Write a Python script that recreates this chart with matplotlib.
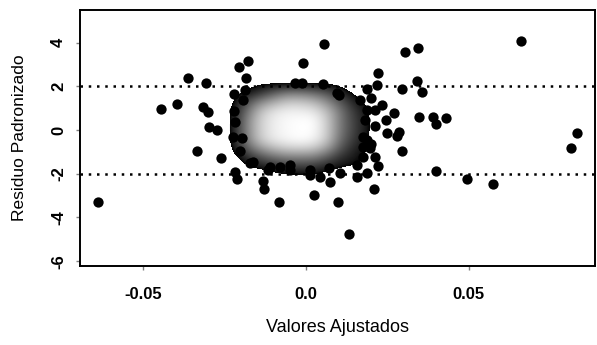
import numpy as np
import matplotlib.pyplot as plt
from matplotlib.colors import LinearSegmentedColormap

plt.rcParams['font.family'] = ['Liberation Sans', 'DejaVu Sans']
plt.rcParams['font.weight'] = 'bold'

# isolated residuals drawn as points (fitted value, standardised residual)
fitted = [-0.0641, -0.0446, -0.0396, -0.0364, -0.0309, -0.0316, -0.0303, -0.0300,
          -0.0274, -0.0334, -0.0261, -0.0207, -0.0178, -0.0184, -0.0188, -0.0221,
          -0.0223, -0.0218, -0.0226, -0.0203, -0.0218, -0.0211, -0.0172, -0.0131,
          -0.0129, -0.0082, -0.0111, -0.0049, 0.0012, 0.0043, 0.0074, 0.0025,
          0.0099, 0.0132, 0.0056, -0.0009, -0.0034, -0.0014, 0.0052, 0.0101,
          0.0156, 0.0187, 0.0209, 0.0220, 0.0176, 0.0200, 0.0212, 0.0187,
          0.0221, 0.0187, 0.0200, 0.0217, 0.0233, 0.0212, 0.0269, 0.0247,
          0.0250, 0.0286, 0.0279, 0.0296, 0.0212, 0.0304, 0.0344, 0.0294,
          0.0340, 0.0357, 0.0348, 0.0389, 0.0398, 0.0429, 0.0400, 0.0495,
          0.0575, 0.0662, 0.0833, 0.0815, -0.0080, 0.0105, 0.0187, 0.0197,
          0.0094, -0.0162, -0.0116, -0.0049, 0.0012, 0.0069, 0.0156, 0.0176,
          -0.0193, -0.0198, 0.0166, 0.0181, 0.0176]
resid = [-3.31, 0.95, 1.19, 2.38, 2.17, 1.05, 0.81, 0.15,
         0.00, -0.95, -1.26, 2.86, 3.16, 2.38, 1.83, 1.67,
         0.89, 0.37, -0.32, -0.94, -1.92, -2.23, -1.51, -2.33,
         -2.68, -3.30, -1.69, -1.83, -2.06, -2.15, -2.36, -2.95,
         -3.28, -4.76, 3.95, 3.05, 2.15, 2.17, 2.11, 1.60,
         -2.14, -1.98, -2.68, -1.65, -0.76, -0.66, 0.18, 0.92,
         2.62, 1.88, 1.46, 2.06, 1.14, 0.92, 0.76, 0.47,
         -0.14, -0.07, -0.27, -0.96, -1.22, 3.57, 3.74, 1.88,
         2.24, 1.73, 0.58, 0.58, 0.27, 0.54, -1.86, -2.25,
         -2.49, 4.07, -0.12, -0.81, -1.69, -1.97, -0.46, -0.82,
         1.68, -1.45, -1.83, -1.60, -1.83, -1.75, -1.60, -1.22,
         1.37, -0.38, 1.37, 0.46, -0.31]

# smoothed point density of the crowded centre (rows top to bottom)
dens_x = [-0.026, -0.022, -0.018, -0.014, -0.010, -0.006, -0.002,
          0.002, 0.006, 0.010, 0.014, 0.018, 0.022]
dens_y = [2.4, 2.0, 1.6, 1.2, 0.8, 0.4, 0.0, -0.4, -0.8, -1.2, -1.6, -2.0, -2.4]
density = [
    [0, 0, 0, 0, 0, 0, 0, 0, 0, 0, 0, 0, 0],
    [0, 0, 0.02, 0.04, 0.04, 0.04, 0.04, 0.04, 0.04, 0.03, 0, 0, 0],
    [0, 0.02, 0.06, 0.12, 0.25, 0.38, 0.38, 0.32, 0.22, 0.10, 0.04, 0, 0],
    [0, 0.03, 0.18, 0.42, 0.58, 0.72, 0.72, 0.65, 0.45, 0.22, 0.08, 0.03, 0],
    [0, 0.04, 0.28, 0.65, 0.85, 0.92, 0.92, 0.88, 0.65, 0.32, 0.12, 0.05, 0],
    [0, 0.04, 0.35, 0.72, 0.90, 0.97, 1.00, 1.00, 0.72, 0.32, 0.14, 0.05, 0],
    [0, 0.04, 0.35, 0.72, 0.90, 0.97, 1.00, 1.00, 0.72, 0.32, 0.14, 0.05, 0],
    [0, 0.04, 0.33, 0.70, 0.88, 0.95, 1.00, 0.95, 0.70, 0.28, 0.12, 0.05, 0],
    [0, 0.03, 0.22, 0.45, 0.62, 0.72, 0.75, 0.70, 0.50, 0.20, 0.08, 0.04, 0],
    [0, 0.02, 0.08, 0.18, 0.28, 0.35, 0.35, 0.35, 0.22, 0.10, 0.06, 0.03, 0],
    [0, 0, 0.04, 0.06, 0.09, 0.12, 0.14, 0.12, 0.08, 0.05, 0.04, 0.02, 0],
    [0, 0, 0, 0, 0.02, 0.03, 0.03, 0.03, 0.02, 0, 0, 0, 0],
    [0, 0, 0, 0, 0, 0, 0, 0, 0, 0, 0, 0, 0],
]

xticks = [-0.05, 0.0, 0.05]
xticklabels = ['-0.05', '0.0', '0.05']
yticks = [-6, -4, -2, 0, 2, 4]
limits = [-2, 2]

fig = plt.figure(figsize=(5.97, 3.45), dpi=100)
ax = fig.add_axes([80 / 597, 1 - 266 / 345, 515 / 597, 256 / 345])

# transparent below the cut, then black rising to white with a soft gamma
cut = 0.035
levels = np.linspace(cut + 0.001, 1, 60)
shade = ((levels - cut) / (1 - cut)) ** 0.6
stops = [(0.0, (1, 1, 1, 0)), (cut, (1, 1, 1, 0))]
stops += [(lv, (g, g, g, 1)) for lv, g in zip(levels, shade)]
cmap = LinearSegmentedColormap.from_list('smooth', stops, N=1024)
cmap.set_under((1, 1, 1, 0))
dx = (dens_x[1] - dens_x[0]) / 2
dy = (dens_y[0] - dens_y[1]) / 2
ax.imshow(np.array(density), cmap=cmap, vmin=0, vmax=1, origin='upper',
          extent=[dens_x[0] - dx, dens_x[-1] + dx, dens_y[-1] - dy, dens_y[0] + dy],
          interpolation='bicubic', interpolation_stage='data', aspect='auto', zorder=1)

ax.scatter(fitted, resid, s=55, c='black', linewidths=0, zorder=3)
for lim in limits:
    ax.axhline(lim, color='black', lw=1.8, linestyle=(0, (1, 2.3)), zorder=2)

ax.set_xlim(-0.0695, 0.0888)
ax.set_ylim(-6.22, 5.49)
ax.set_xticks(xticks)
ax.set_xticklabels(xticklabels)
ax.set_yticks(yticks)
ax.set_yticklabels([str(v) for v in yticks], rotation=90, va='center')
ax.tick_params(length=3, width=1, color='0.5', labelsize=12)
ax.tick_params(axis='x', pad=12)
ax.tick_params(axis='y', pad=7)
for s in ax.spines.values():
    s.set_linewidth(1.4)

ax.set_xlabel('Valores Ajustados', fontsize=13)
ax.xaxis.label.set_va('center')
ax.xaxis.set_label_coords(0.5, (266 - 328) / 256)
ax.set_ylabel('Residuo Padronizado', fontsize=12.5)
ax.yaxis.label.set_va('center')
ax.yaxis.set_label_coords((20 - 80) / 515, 0.5)

fig.savefig('out.png', dpi=100)
